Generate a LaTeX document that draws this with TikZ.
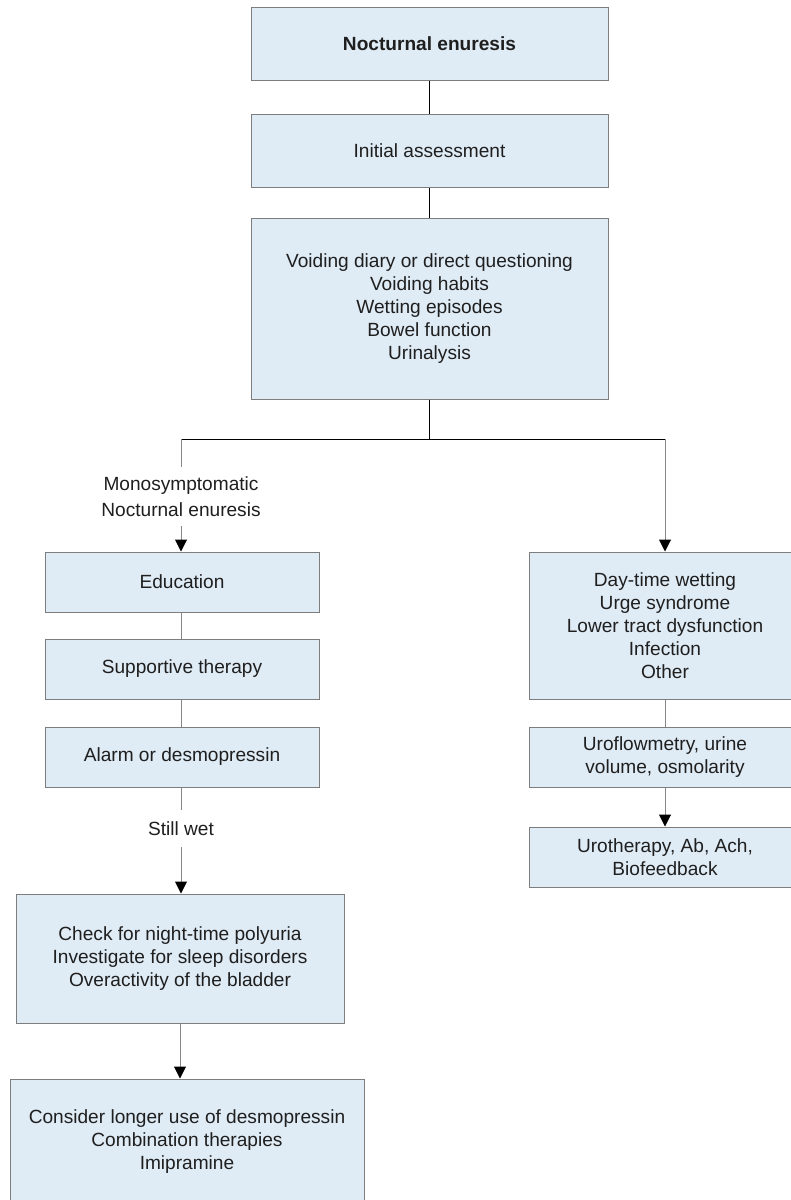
\documentclass[tikz,border=0pt]{standalone}
\usepackage{fontspec}
\setmainfont{Liberation Sans}
\usetikzlibrary{arrows.meta}
\definecolor{boxfill}{RGB}{223,235,245}
\definecolor{boxline}{RGB}{125,125,125}
\definecolor{linegray}{RGB}{135,135,135}
\begin{document}
\begin{tikzpicture}[x=1pt,y=-1pt,
  box/.style={draw=boxline, fill=boxfill, line width=1pt, align=center, inner sep=0pt,
    font=\fontsize{19.1}{23}\selectfont, text=black!88},
  lbl/.style={align=center, inner sep=0pt, font=\fontsize{19.1}{26}\selectfont, text=black!88},
  conn/.style={line width=1pt, black},
  gconn/.style={line width=1pt, linegray},
  arr/.style={-{Triangle[width=12pt,length=12pt,color=black]}}
]
\clip (0,0) rectangle (791,1200);
\fill[white] (0,0) rectangle (791,1200);

% main column
\node[box, minimum width=357pt, minimum height=73pt] (b1) at (429.5,43.5) {\bfseries Nocturnal enuresis};
\node[box, minimum width=357pt, minimum height=73pt] (b2) at (429.5,150.5) {Initial assessment};
\node[box, minimum width=357pt, minimum height=181pt] (b3) at (429.5,308.5)
  {Voiding diary or direct questioning\\Voiding habits\\Wetting episodes\\Bowel function\\Urinalysis};

% left column
\node[lbl, minimum height=59pt] (mono) at (181,496.5) {Monosymptomatic\\Nocturnal enuresis};
\node[box, minimum width=274pt, minimum height=60pt] (edu) at (182,582) {Education};
\node[box, minimum width=274pt, minimum height=60pt] (sup) at (182,669) {Supportive therapy};
\node[box, minimum width=274pt, minimum height=60pt] (alarm) at (182,757) {Alarm or desmopressin};
\node[lbl, minimum height=37pt] (still) at (181,828.5) {Still wet};
\node[box, minimum width=328pt, minimum height=129pt] (check) at (180,958.5)
  {Check for night-time polyuria\\Investigate for sleep disorders\\Overactivity of the bladder};
\node[box, minimum width=354pt, minimum height=126pt] (cons) at (187,1142)
  {Consider longer use of desmopressin\\Combination therapies\\Imipramine};

% right column
\node[box, minimum width=272pt, minimum height=147pt] (day) at (665,625.5)
  {Day-time wetting\\Urge syndrome\\Lower tract dysfunction\\Infection\\Other};
\node[box, minimum width=272pt, minimum height=60pt] (uro) at (665,757)
  {Uroflowmetry, urine\\volume, osmolarity};
\node[box, minimum width=272pt, minimum height=60pt] (urt) at (665,857)
  {Urotherapy, Ab, Ach,\\Biofeedback};

% connectors
\coordinate (hl) at (181,439);
\coordinate (hr) at (665,439);
\draw[conn] (b1.south) -- (b2.north);
\draw[conn] (b2.south) -- (b3.north);
\draw[conn] (b3.south) -- (b3.south |- hl);
\draw[conn] (hl) -- (hr);
\draw[gconn] (hl) -- (mono.north);
\draw[gconn,arr] (mono.south) -- (mono.south |- edu.north);
\draw[gconn] (edu.south -| mono.south) -- (mono.south |- sup.north);
\draw[gconn] (sup.south -| mono.south) -- (mono.south |- alarm.north);
\draw[gconn] (alarm.south -| still.north) -- (still.north);
\draw[gconn,arr] (still.south) -- (still.south |- check.north);
\draw[gconn,arr] (check.south) -- (check.south |- cons.north);
\draw[gconn,arr] (hr) -- (day.north);
\draw[gconn] (day.south) -- (uro.north);
\draw[gconn,arr] (uro.south) -- (urt.north);
\end{tikzpicture}
\end{document}
